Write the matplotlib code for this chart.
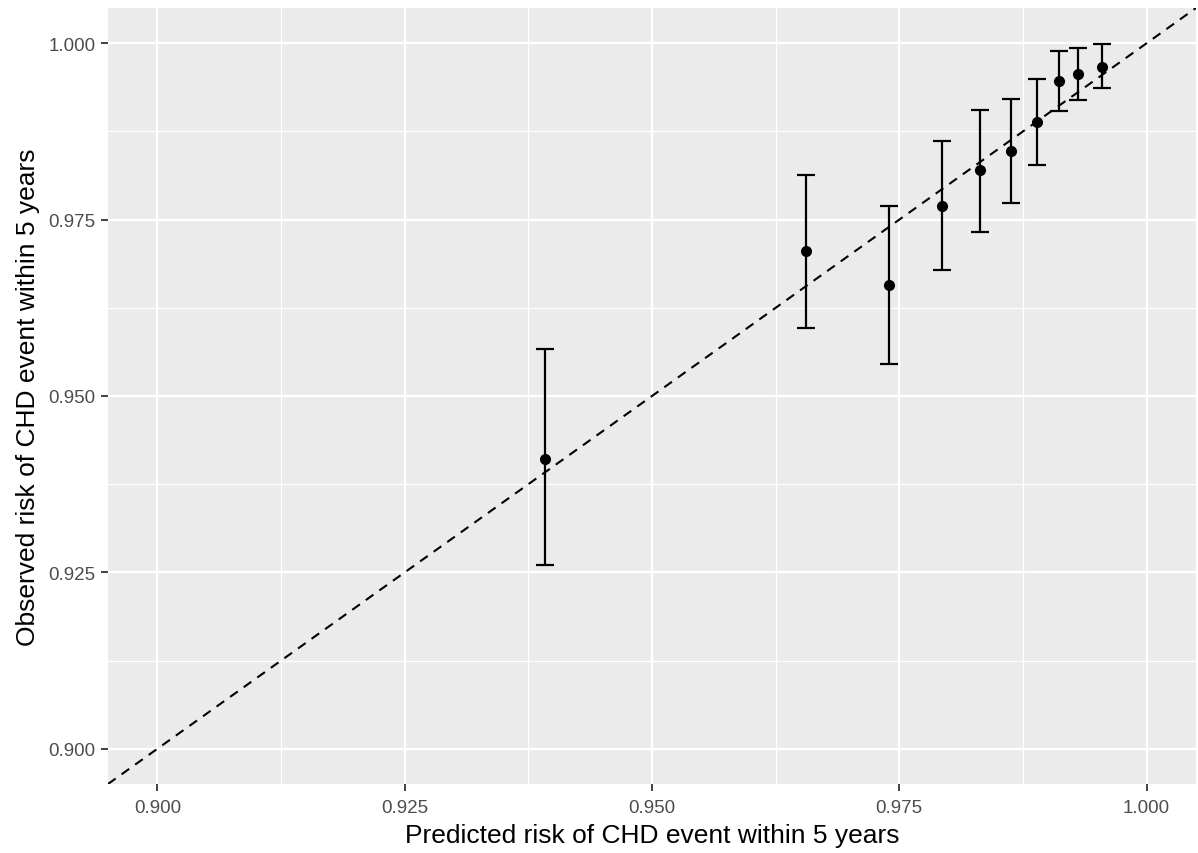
import matplotlib
matplotlib.use("Agg")
import matplotlib.pyplot as plt
import numpy as np

predicted = [0.9392, 0.9656, 0.9740, 0.9793, 0.9832, 0.9863, 0.9889, 0.9911, 0.9931, 0.9955]
observed = [0.9411, 0.9705, 0.9658, 0.9770, 0.9820, 0.9848, 0.9888, 0.9946, 0.9957, 0.9967]
obs_upper = [0.9566, 0.9813, 0.9770, 0.9862, 0.9906, 0.9921, 0.9949, 0.9989, 0.9994, 0.9999]
obs_lower = [0.9260, 0.9597, 0.9546, 0.9678, 0.9732, 0.9774, 0.9828, 0.9904, 0.9919, 0.9936]
ticks = [0.900, 0.925, 0.950, 0.975, 1.000]
tick_labels = ["0.900", "0.925", "0.950", "0.975", "1.000"]
minor_ticks = [0.9125, 0.9375, 0.9625, 0.9875]

plt.rcParams['font.family'] = ['Liberation Sans', 'DejaVu Sans']

fig = plt.figure(figsize=(11.98, 8.54), dpi=100)
ax = fig.add_axes([108/1198, 69/854, (1196-108)/1198, (785-9)/854])
ax.set_facecolor("#EBEBEB")
for s in ax.spines.values():
    s.set_visible(False)

lims = (0.895, 1.005)
ax.set_xlim(lims)
ax.set_ylim(lims)

for t in minor_ticks:
    ax.axvline(t, color="white", lw=0.9, zorder=0)
    ax.axhline(t, color="white", lw=0.9, zorder=0)
for t in ticks:
    ax.axvline(t, color="white", lw=1.6, zorder=0)
    ax.axhline(t, color="white", lw=1.6, zorder=0)

ax.plot(lims, lims, color="black", lw=1.5, linestyle=(0, (4.5, 3.5)), zorder=2)

pred = np.array(predicted)
obs = np.array(observed)
up = np.array(obs_upper)
lo = np.array(obs_lower)
ax.errorbar(pred, obs, yerr=[obs - lo, up - obs], fmt="none", ecolor="black",
            elinewidth=1.6, capsize=6.5, capthick=1.6, zorder=3)
ax.plot(pred, obs, "o", color="black", markersize=7, zorder=4)

ax.set_xticks(ticks)
ax.set_xticklabels(tick_labels)
ax.set_yticks(ticks)
ax.set_yticklabels(tick_labels)
ax.tick_params(axis="both", colors="#333333", length=5, width=1.3, labelsize=13.5,
               labelcolor="#4D4D4D")
ax.tick_params(axis="x", pad=6)
ax.tick_params(axis="y", pad=4)

ax.set_xlabel("Predicted risk of CHD event within 5 years", fontsize=19, color="black", labelpad=5)
ax.set_ylabel("Observed risk of CHD event within 5 years", fontsize=19, color="black", labelpad=6)

fig.savefig("out.png", dpi=100)
